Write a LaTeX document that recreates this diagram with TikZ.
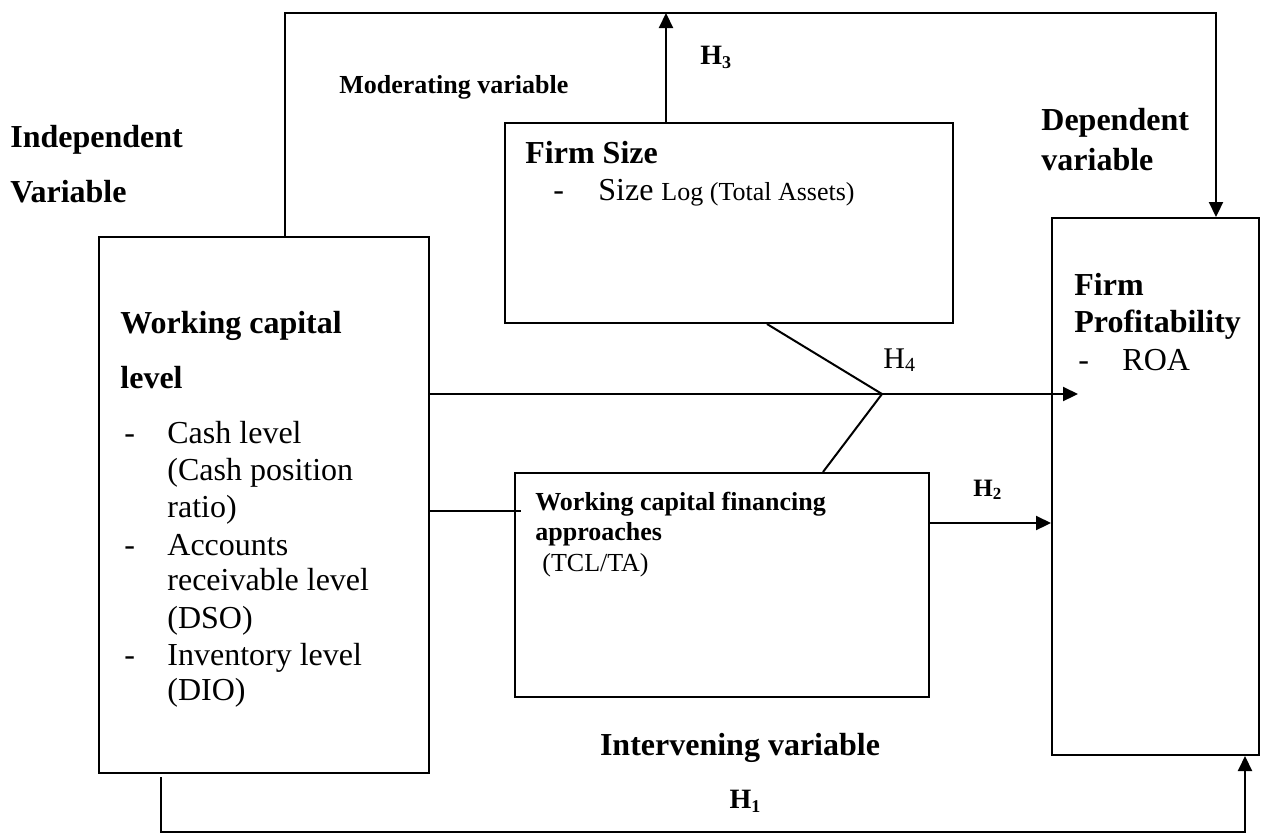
\documentclass[tikz,border=0pt]{standalone}
\usepackage{fontspec}
\setmainfont{Liberation Serif}
\usetikzlibrary{arrows.meta}
\newcommand{\hyp}[3]{H\lower#3\hbox{\fontsize{#2}{#2}\selectfont #1}}
\begin{document}
\begin{tikzpicture}[x=0.5pt,y=-0.5pt,
  box/.style={draw, line width=1pt, inner sep=0pt, fill=none},
  conn/.style={line width=1pt},
  arr/.style={line width=1.1pt, -{Triangle[length=7.5pt,width=7pt]}},
  lbl/.style={anchor=base west, inner sep=0pt},
  big/.style={font=\fontsize{16}{18}\selectfont},
  bigb/.style={font=\fontsize{16}{18}\selectfont\bfseries},
  midb/.style={font=\fontsize{13}{15}\selectfont\bfseries},
  mid/.style={font=\fontsize{13}{15}\selectfont}]
\useasboundingbox (0,0) rectangle (1265,837);
% boxes
\node[box, minimum width=165pt, minimum height=268pt] (wc) at (264,505) {};
\node[box, minimum width=224pt, minimum height=100pt] (fs) at (729,223) {};
\node[box, minimum width=207pt, minimum height=112pt] (wcf) at (722,585) {};
\node[box, minimum width=103.5pt, minimum height=268.5pt] (fp) at (1155.5,486.5) {};
% coordinates
\coordinate (tA) at (285,13);
\coordinate (tB) at (1216,13);
\coordinate (h3top) at (666,13);
\coordinate (j) at (882,394);
\coordinate (mtip) at (1078,394);
\coordinate (d1) at (767,0);
\coordinate (d2) at (823,0);
\coordinate (m) at (521,511);
\coordinate (h2y) at (0,523);
\coordinate (b0) at (161,777);
\coordinate (b1) at (161,832);
\coordinate (b2) at (1245,832);
% connectors
\draw[arr] (wc.north -| tA) -- (tA) -- (tB) -- (fp.north -| tB);
\draw[arr] (fs.north -| h3top) -- (h3top);
\draw[arr] (wc.east |- j) -- (mtip);
\draw[conn] (fs.south -| d1) -- (j) -- (wcf.north -| d2);
\draw[conn] (wc.east |- m) -- (m);
\draw[arr] (wcf.east |- h2y) -- (fp.west |- h2y);
\draw[arr] (b0) -- (b1) -- (b2) -- (fp.south -| b2);
% outside labels
\node[lbl, bigb] (indep) at (10,147) {Independent};
\node[lbl, bigb] (indepv) at (10,202) {Variable};
\node[lbl, midb] (mod) at (339,93) {Moderating variable};
\node[lbl, font=\fontsize{14}{16}\selectfont\bfseries] (h3) at (700,64) {\hyp{3}{9}{2pt}};
\node[lbl, bigb] (dep) at (1041,130) {Dependent};
\node[lbl, bigb] (depv) at (1041,170) {variable};
% firm size
\node[lbl, bigb] (fst) at (525,163) {Firm Size};
\node[lbl, big] (fsd) at (553,200) {-};
\node[lbl, big] (fsi) at (598,200) {Size {\fontsize{13}{15}\selectfont Log (Total Assets)}};
% working capital level
\node[lbl, bigb] (wct1) at (120,333) {Working capital};
\node[lbl, bigb] (wct2) at (120,388) {level};
\node[lbl, big] (wd1) at (124,443) {-};
\node[lbl, big] (wi1) at (167,443) {Cash level};
\node[lbl, big] (wi2) at (167,480) {(Cash position};
\node[lbl, big] (wi3) at (167,517) {ratio)};
\node[lbl, big] (wd2) at (124,555) {-};
\node[lbl, big] (wi4) at (167,555) {Accounts};
\node[lbl, big] (wi5) at (167,590) {receivable level};
\node[lbl, big] (wi6) at (167,628) {(DSO)};
\node[lbl, big] (wd3) at (124,665) {-};
\node[lbl, big] (wi7) at (167,665) {Inventory level};
\node[lbl, big] (wi8) at (167,700) {(DIO)};
% firm profitability
\node[lbl, bigb] (fpt1) at (1074,295) {Firm};
\node[lbl, bigb] (fpt2) at (1074,332) {Profitability};
\node[lbl, big] (fpd) at (1078,370) {-};
\node[lbl, big] (fpi) at (1122,370) {ROA};
% H4
\node[lbl, font=\fontsize{15}{17}\selectfont] (h4) at (883,368) {\hyp{4}{10}{1.5pt}};
% WCF
\node[lbl, midb] (wcf1) at (535,510) {Working capital financing};
\node[lbl, midb] (wcf2) at (535,540) {approaches};
\node[lbl, mid] (wcf3) at (542,571) {(TCL/TA)};
% H2
\node[lbl, font=\fontsize{12.5}{14}\selectfont\bfseries] (h2) at (973,496) {\hyp{2}{8.5}{1.5pt}};
% intervening
\node[anchor=base, inner sep=0pt, bigb] (interv) at (740,755) {Intervening variable};
\node[anchor=base, inner sep=0pt, font=\fontsize{14}{16}\selectfont\bfseries] (h1) at (745,808) {\hyp{1}{9}{2pt}};
\end{tikzpicture}
\end{document}
